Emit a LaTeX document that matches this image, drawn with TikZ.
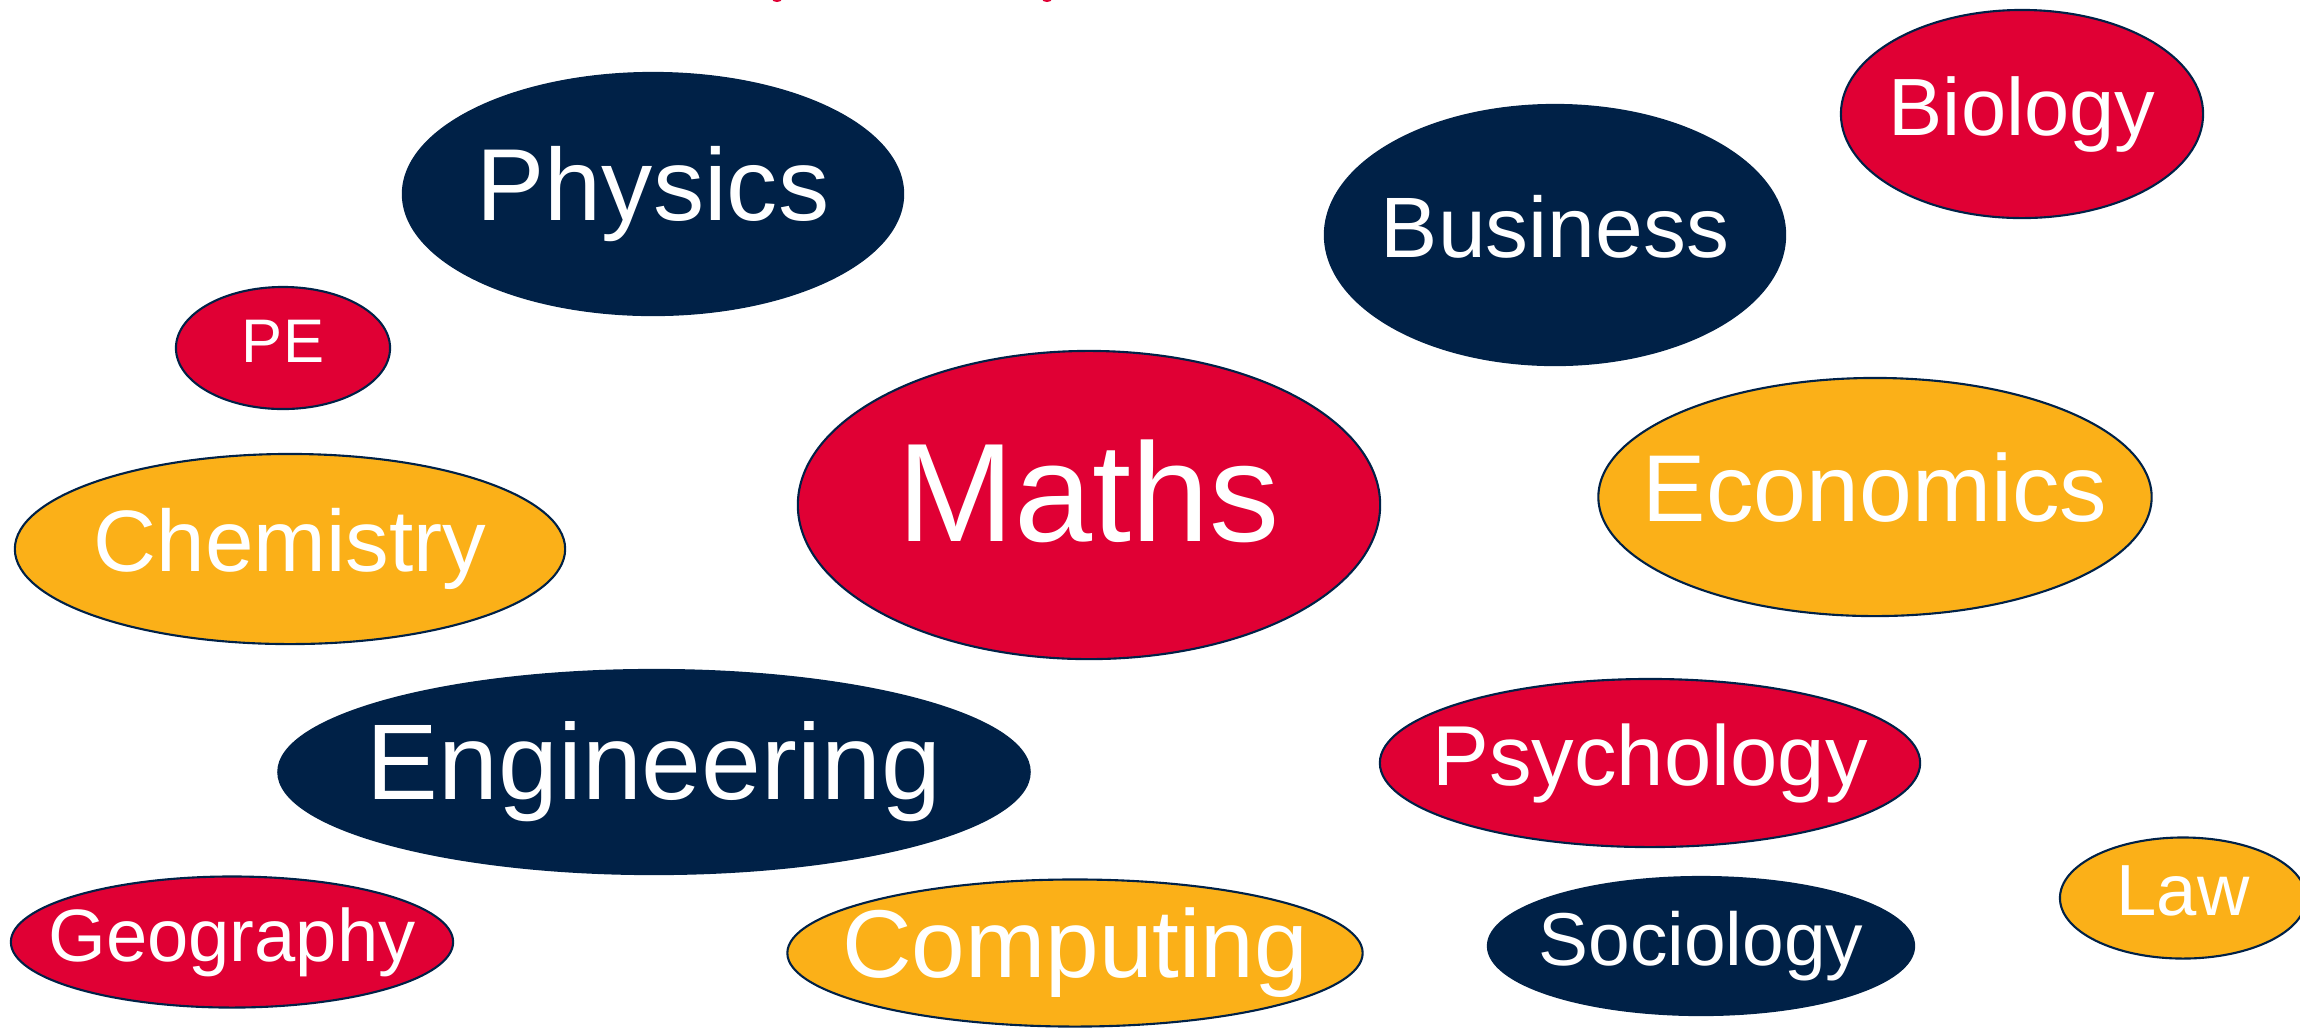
\documentclass[tikz,border=0pt]{standalone}
\usepackage{fontspec}
\setmainfont{Liberation Sans}
\usetikzlibrary{shapes.geometric}
\definecolor{navy}{HTML}{002147}
\definecolor{crimson}{HTML}{E00034}
\definecolor{amber}{HTML}{FBB018}
\newcommand{\subjfont}[1]{\fontsize{#1}{#1}\selectfont}
\newcommand{\subj}[1]{\makebox[0pt]{\vphantom{Ay}#1}}

\begin{document}
\begin{tikzpicture}[x=0.01cm, y=-0.01cm,
    subject/.style={ellipse, draw=navy, line width=0.6pt, inner sep=0pt, text=white},
    redsub/.style={subject, fill=crimson},
    bluesub/.style={subject, fill=navy},
    goldsub/.style={subject, fill=amber}]
    \useasboundingbox (0,0) rectangle (2300,1029);

    % Title cut off by the top edge
    \fill[crimson] (777,-1) ellipse (5 and 3);
    \fill[crimson] (1047,-1) ellipse (5 and 3);

    % Top row
    \node[bluesub, minimum width=5cm, minimum height=2.42cm, font=\subjfont{29.1}] (physics) at (653,194) {\subj{Physics}};
    \node[bluesub, minimum width=4.6cm, minimum height=2.6cm, font=\subjfont{24.4}] (business) at (1555,235) {\subj{Business}};
    \node[redsub, minimum width=3.62cm, minimum height=2.08cm, font=\subjfont{23.1}] (biology) at (2022,114) {\subj{Biology}};
    \node[redsub, minimum width=2.14cm, minimum height=1.22cm, font=\subjfont{17.5}] (pe) at (283,348) {\subj{PE}};

    % Middle row
    \node[redsub, minimum width=5.82cm, minimum height=3.08cm, font=\subjfont{39.9}] (maths) at (1089,505) {\subj{Maths}};
    \node[goldsub, minimum width=5.53cm, minimum height=2.38cm, font=\subjfont{27}] (economics) at (1875,497) {\subj{Economics}};
    \node[goldsub, minimum width=5.5cm, minimum height=1.9cm, font=\subjfont{24.8}] (chemistry) at (290,549) {\subj{Chemistry}};
    \node[bluesub, minimum width=7.51cm, minimum height=2.04cm, font=\subjfont{30.6}] (engineering) at (654,772) {\subj{Engineering}};
    \node[redsub, minimum width=5.4cm, minimum height=1.68cm, font=\subjfont{24.2}] (psychology) at (1650,763) {\subj{Psychology}};

    % Bottom row
    \node[redsub, minimum width=4.42cm, minimum height=1.31cm, font=\subjfont{21.1}] (geography) at (232,942) {\subj{Geography}};
    \node[goldsub, minimum width=5.75cm, minimum height=1.47cm, font=\subjfont{27.4}] (computing) at (1075,953) {\subj{Computing}};
    \node[bluesub, minimum width=4.26cm, minimum height=1.38cm, font=\subjfont{21.3}] (sociology) at (1701,946) {\subj{Sociology}};
    \node[goldsub, minimum width=2.46cm, minimum height=1.21cm, font=\subjfont{20.6}] (law) at (2183,898) {\subj{Law}};
\end{tikzpicture}
\end{document}
